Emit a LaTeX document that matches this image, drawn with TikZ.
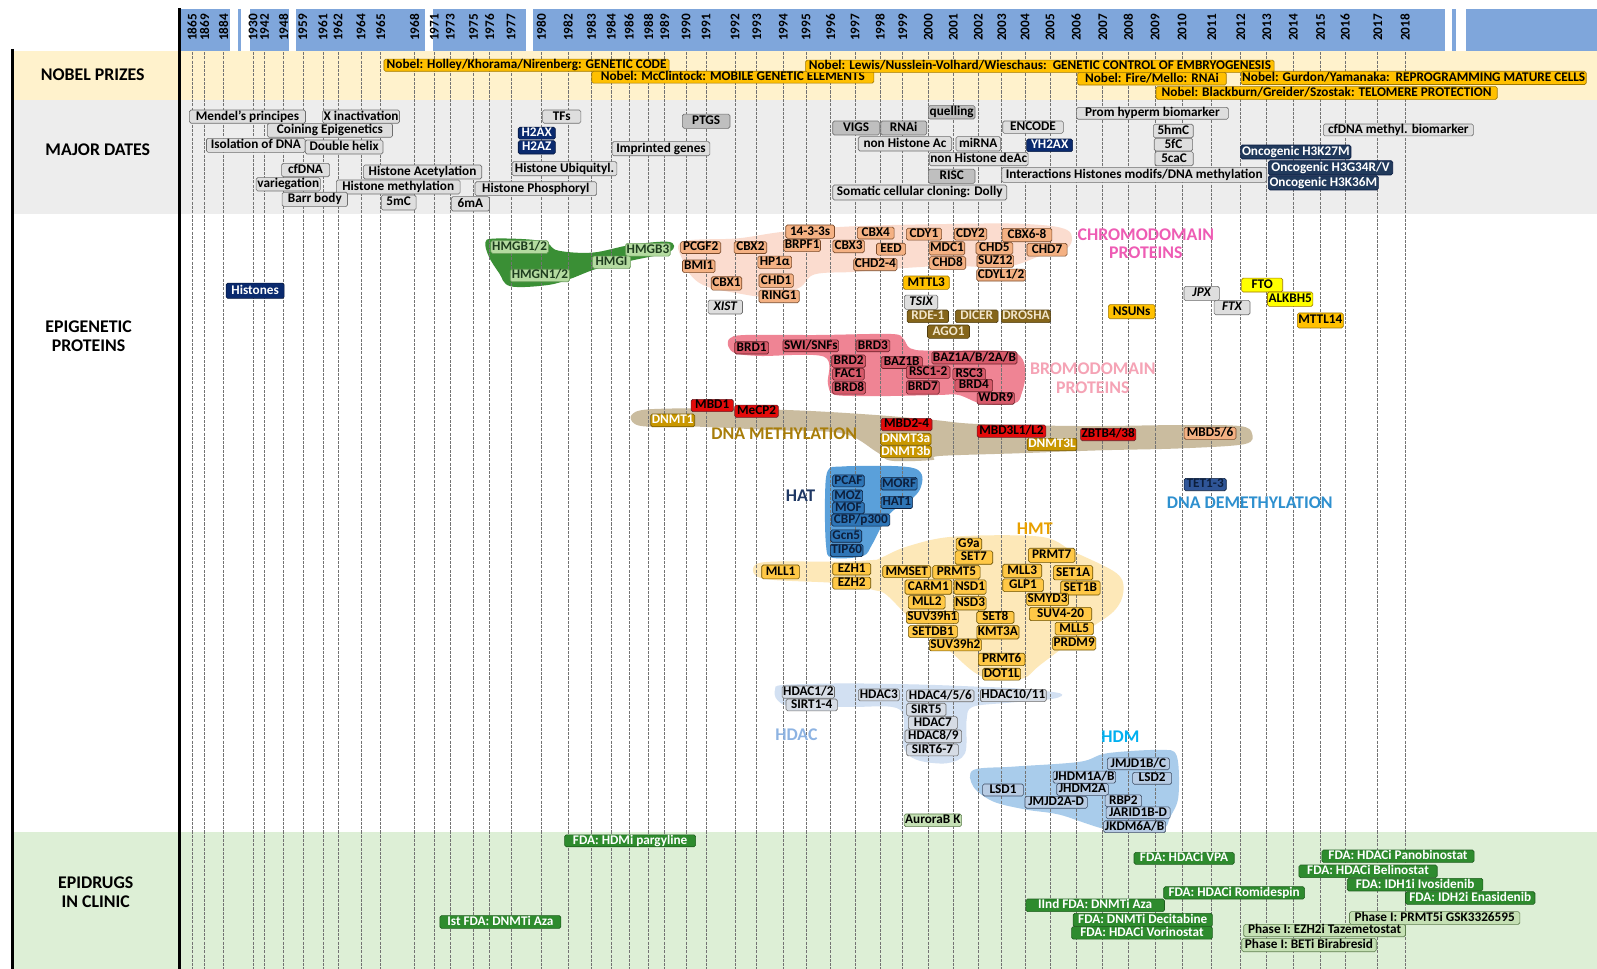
\documentclass[tikz,border=0pt]{standalone}
\usepackage{fontspec}
\setmainfont{Carlito}
\definecolor{cBar}{HTML}{7FA6DB}
\definecolor{cCream}{HTML}{FFF2CC}
\definecolor{cGrayB}{HTML}{EDEDED}
\definecolor{cGreenB}{HTML}{DDEFD6}
\definecolor{cNob}{HTML}{FFC000}
\definecolor{cNobD}{HTML}{A07800}
\definecolor{cGl}{HTML}{DEDEDE}
\definecolor{cGd}{HTML}{BFBFBF}
\definecolor{cGlD}{HTML}{6E6E6E}
\definecolor{cNv}{HTML}{0A2A6E}
\definecolor{cNvD}{HTML}{061840}
\definecolor{cOn}{HTML}{213A5C}
\definecolor{cCh}{HTML}{F4B183}
\definecolor{cChD}{HTML}{7A4A2A}
\definecolor{cHmg}{HTML}{B4DBA0}
\definecolor{cHmgD}{HTML}{6FA060}
\definecolor{cHmgT}{HTML}{1E3D1E}
\definecolor{cHmgBlob}{HTML}{3A8F35}
\definecolor{cChBlob}{HTML}{FBDCCF}
\definecolor{cBrBlob}{HTML}{EF8494}
\definecolor{cBrm}{HTML}{D65A6A}
\definecolor{cBrmD}{HTML}{6A2028}
\definecolor{cDnaBlob}{HTML}{CABC9F}
\definecolor{cRed}{HTML}{E30B0B}
\definecolor{cGold}{HTML}{C99700}
\definecolor{cHatBlob}{HTML}{5AA0DA}
\definecolor{cHat}{HTML}{2E75B6}
\definecolor{cHatT}{HTML}{0D1F3C}
\definecolor{cTet}{HTML}{2F5597}
\definecolor{cHmtBlob}{HTML}{FDE8B8}
\definecolor{cHmt}{HTML}{FFC846}
\definecolor{cHmtD}{HTML}{6A5000}
\definecolor{cHdBlob}{HTML}{D2E0F2}
\definecolor{cHd}{HTML}{D6DCE5}
\definecolor{cHdmBlob}{HTML}{A9CCEB}
\definecolor{cHdm}{HTML}{B8CCE4}
\definecolor{cHdmD}{HTML}{404F66}
\definecolor{cFda}{HTML}{2E8B2E}
\definecolor{cFdaD}{HTML}{1E5E1E}
\definecolor{cPh}{HTML}{C5E0B4}
\definecolor{cPhD}{HTML}{5E7F4E}
\definecolor{cBrn}{HTML}{85651A}
\definecolor{cBrnT}{HTML}{F2E6CC}
\definecolor{cYel}{HTML}{FFFF00}
\definecolor{tChr}{HTML}{EE5CB4}
\definecolor{tBrm}{HTML}{F5A3B5}
\definecolor{tDna}{HTML}{A87D0A}
\definecolor{tHat}{HTML}{1F3864}
\definecolor{tDem}{HTML}{2E90CF}
\definecolor{tHmt}{HTML}{E8A000}
\definecolor{tHdac}{HTML}{8DB3E2}
\definecolor{tHdm}{HTML}{00B0F0}
\newcounter{bxc}
\newcommand\bx[6]{\stepcounter{bxc}%
  \node[#1, minimum width={(#4-#2)*1pt}, minimum height={(#5-#3)*1pt}] (b\arabic{bxc}) at ({(#2+#4)/2},{(#3+#5)/2}) {#6};}
\tikzset{
  bxs/.style={rounded corners=1.6pt, line width=0.6pt, inner xsep=1pt, inner ysep=0pt,
    text height=9.2pt, text depth=2.5pt, font=\fontsize{13}{13}\selectfont\bfseries},
  nob/.style={bxs, fill=cNob, draw=cNobD},
  gl/.style={bxs, fill=cGl, draw=cGlD},
  gd/.style={bxs, fill=cGd, draw=cGlD},
  nv/.style={bxs, fill=cNv, draw=cNvD, text=white},
  onc/.style={bxs, fill=cOn, draw=cNvD, text=white},
  chb/.style={bxs, fill=cCh, draw=cChD},
  hmgb/.style={bxs, fill=cHmg, draw=cHmgD, text=cHmgT},
  orb/.style={bxs, fill=cNob, draw=cNobD},
  ybx/.style={bxs, fill=cYel, draw=cNobD},
  brn/.style={bxs, fill=cBrn, draw=cBrn!60!black, text=cBrnT},
  brm/.style={bxs, fill=cBrm, draw=cBrmD},
  rdb/.style={bxs, fill=cRed, draw=cBrmD},
  dnm/.style={bxs, fill=cGold, draw=cGold!60!black, text=white},
  hatb/.style={bxs, fill=cHat, draw=cHatT, text=cHatT},
  tetb/.style={bxs, fill=cTet, draw=cHatT, text=cHatT},
  hmtb/.style={bxs, fill=cHmt, draw=cHmtD},
  hdb/.style={bxs, fill=cHd, draw=cGlD},
  hdmb/.style={bxs, fill=cHdm, draw=cHdmD},
  fda/.style={bxs, fill=cFda, draw=cFdaD, text=white},
  phb/.style={bxs, fill=cPh, draw=cPhD},
  yrs/.style={rotate=90, inner sep=0pt, font=\fontsize{13}{13}\selectfont\bfseries},
  yline/.style={draw=black!55, line width=0.5pt, dash pattern=on 3pt off 1.2pt},
  grp/.style={inner sep=0pt, align=center, font=\fontsize{17.5}{18}\selectfont\bfseries},
  lab/.style={inner sep=0pt, align=center, font=\fontsize{17.5}{18}\selectfont\bfseries}
}
\begin{document}
\begin{tikzpicture}[x=1pt,y=-1pt]
\useasboundingbox (0,0) rectangle (1568,951);
\fill[white] (0,0) rectangle (1568,951);
% bands
\fill[cCream] (12,50) rectangle (1568,98);
\fill[cGrayB] (12,98) rectangle (1568,210);
\fill[cGreenB] (12,817) rectangle (1568,951);
% year bar
\foreach \a/\b in {177/226,234/237,245/284,291/417,425/516,523/1419,1426/1430,1439/1568}
  \fill[cBar] (\a,9) rectangle (\b,50);
% blobs
\fill[cHmgBlob] plot[smooth cycle, tension=0.6] coordinates {(476.5,238) (484,234.3) (517.9,235) (536.7,238.3) (547.9,246) (581.8,248) (619.3,240.5) (656.9,237.5) (657.5,247.1) (619.3,256) (585.5,264) (559.2,274) (536.7,280) (501,281) (490,268) (480,252)};
\fill[cChBlob] plot[smooth cycle, tension=0.6] coordinates {(670.1,237.3) (724.6,234) (769.7,227.5) (837.3,222.2) (931.3,219.9) (1006.4,219.9) (1047.7,225.8) (1049.6,242.2) (1025.2,249.7) (987.6,262) (931.3,261) (874.9,264) (837.3,267) (799.7,269.4) (784.7,282.5) (754.6,291.3) (724.6,288) (694.5,281.5) (679.5,271.7) (670.1,255.3)};
\fill[cBrBlob] plot[smooth cycle, tension=0.55] coordinates {(716.6,332.2) (731.9,328.9) (803.3,328.9) (874.6,327.9) (886.5,332.2) (893.7,342) (912.7,344.3) (984.1,344.3) (1002.2,350.2) (1007,366.6) (1003.1,386.2) (996,396) (965.1,396.7) (941.3,387.8) (922.2,387.8) (874.6,388.8) (836.6,388.8) (817.5,386.9) (812.8,376.4) (809,350.2) (746.1,349.5) (722.4,346.9) (715.2,340.4)};
\fill[cDnaBlob] plot[smooth cycle, tension=0.55] coordinates {(620,407.5) (636.7,401.9) (708.1,400.9) (789,403.2) (860.4,407.5) (917.5,412.4) (960.3,416.3) (1065,418.3) (1160.2,417.3) (1217.3,418.3) (1229.2,425.5) (1222.1,436) (1160.2,440.2) (1088.8,441.9) (1041.2,443.5) (998.4,445.1) (922.2,447.7) (915.1,451.7) (874.6,452.3) (860.4,443.5) (827.1,425.5) (755.7,422.2) (684.3,418.9) (636.7,418.9) (622.4,415.7)};
\fill[cHatBlob] plot[smooth cycle, tension=0.55] coordinates {(812.8,462) (827,458) (874.6,457.5) (898.4,460) (905.6,468) (903,481) (893.7,491) (876,502) (866,516) (856,535) (847,546) (816.6,547.5) (811,535) (810,490)};
\fill[cHmtBlob] plot[smooth cycle, tension=0.55] coordinates {(864,548.2) (890.3,536.7) (936,526.9) (1021.2,526.9) (1053.9,541.6) (1096.4,562.9) (1103,580.9) (1093.2,600.5) (1060.4,623.4) (1021.2,652.9) (1004.8,666) (975.3,667.6) (955.7,659.4) (929.5,636.5) (896.8,610.3) (870.6,584.2) (857.5,579.2) (824.8,572.7) (759.3,569.4) (741.3,564.5) (741.3,554.7) (759.3,551.4) (824.8,551.4) (857.5,549.8)};
\fill[cHdBlob] plot[smooth cycle, tension=0.55] coordinates {(761,677) (769,672.5) (830,671) (900,672) (955.7,674) (1000,676) (1040.8,680.7) (1034,686) (990,690) (955,694) (949,707) (947.5,739.6) (929.5,749.4) (900,746) (887,733) (884,697) (838,694) (779,694) (763,687)};
\fill[cHdmBlob] plot[smooth cycle, tension=0.55] coordinates {(955.7,756) (995,752.7) (1060,748) (1086.6,739.6) (1138.9,736.3) (1155.3,742) (1157,782) (1149,801.8) (1139,815) (1089.9,815) (1040.8,800) (1008,795) (975.3,787) (955.7,772.4)};
% years and grid lines
\foreach \yr/\x in {1865/188.5, 1869/200.9, 1884/219.5, 1930/248.4, 1942/259.8, 1948/278.5, 1959/297.4, 1961/317, 1962/331.8, 1964/354.4, 1965/373.8, 1968/407.1, 1971/426.4, 1973/442.2, 1975/465, 1976/480.7, 1977/501.7, 1980/531.6, 1982/557.9, 1983/580.7, 1984/599.9, 1986/617.6, 1988/636.8, 1989/652.5, 1990/673.5, 1991/693.2, 1992/721.7, 1993/743, 1994/769.1, 1995/791.4, 1996/815.6, 1997/839.5, 1998/864, 1999/886.3, 2000/911.4, 2001/936, 2002/960.5, 2003/983.5, 2004/1006.4, 2005/1030.9, 2006/1056.5, 2007/1082.7, 2008/1107.8, 2009/1134, 2010/1160.5, 2011/1189.7, 2012/1218.2, 2013/1243.7, 2014/1269.8, 2015/1296.7, 2016/1320.6, 2017/1352.7, 2018/1379.5}{
  \node[yrs] (y\yr) at (\x,27) {\yr};
  \draw[yline] (\x,51) -- (\x,951);
}
% black vertical rules
\draw[line width=3pt] (12,48) -- (12,951);
\draw[line width=3pt] (176.5,8) -- (176.5,951);
% left labels
\node[lab] (lnob) at (91,73) {NOBEL PRIZES};
\node[lab] (lmaj) at (96,147) {MAJOR DATES};
\node[lab] (lepi) at (87,330) {EPIGENETIC\\PROTEINS};
\node[lab] (ldrg) at (94,876) {EPIDRUGS\\IN CLINIC};
% Nobel
\bx{nob}{377}{58}{657}{70}{Nobel: Holley/Khorama/Nirenberg: GENETIC CODE}
\bx{nob}{581}{70}{858}{81.5}{Nobel: McClintock: MOBILE GENETIC ELEMENTS}
\bx{nob}{791}{59}{1251}{71}{Nobel: Lewis/Nusslein-Volhard/Wieschaus:\ \ GENETIC CONTROL OF EMBRYOGENESIS}
\bx{nob}{1058}{71}{1204}{83.5}{Nobel: Fire/Mello: RNAi}
\bx{nob}{1220}{70}{1556}{83}{Nobel: Gurdon/Yamanaka:\ \ REPROGRAMMING MATURE CELLS}
\bx{nob}{1135}{85}{1470}{97.5}{Nobel: Blackburn/Greider/Szostak: TELOMERE PROTECTION}
% Major dates
\bx{gl}{186}{108}{300}{121}{Mendel’s principes}
\bx{gl}{317}{108}{392}{121}{X inactivation}
\bx{gl}{262.5}{121.1}{385.4}{134.8}{Coining Epigenetics}
\bx{gl}{202.7}{135.8}{299.7}{149.6}{Isolation of DNA}
\bx{gl}{299.7}{137.5}{376}{151.2}{Double helix}
\bx{gl}{532.7}{108}{570.3}{121}{TFs}
\bx{nv}{508.8}{125}{545.3}{136.5}{H2AX}
\bx{nv}{508.8}{138.1}{545.3}{151.2}{H2AZ}
\bx{gl}{601}{139.1}{697}{152.9}{Imprinted genes}
\bx{gd}{670}{112}{716.7}{126}{PTGS}
\bx{gl}{276.5}{160.4}{323.6}{173.5}{cfDNA}
\bx{gl}{356.8}{162}{473}{175.7}{Histone Acetylation}
\bx{gl}{251.5}{174.4}{314.6}{187.5}{variegation}
\bx{gl}{330.2}{176.7}{451.7}{190.5}{Histone methylation}
\bx{gl}{277}{188.8}{341.2}{202.9}{Barr body}
\bx{gl}{374.4}{191.5}{408.5}{206.2}{5mC}
\bx{gl}{443.1}{193.1}{480.6}{207.2}{6mA}
\bx{gl}{502.8}{158.7}{605.7}{172.5}{Histone Ubiquityl.}
\bx{gl}{466.4}{178.4}{585.8}{192.1}{Histone Phosphoryl}
\bx{gd}{911.5}{103.7}{957.3}{116.8}{quelling}
\bx{gd}{817.6}{118.8}{863.4}{132.5}{VIGS}
\bx{gd}{864.7}{118.8}{909.9}{132.5}{RNAi}
\bx{gl}{984.5}{118.8}{1044}{130.9}{ENCODE}
\bx{gl}{842.7}{134.2}{934.4}{148.3}{non Histone Ac}
\bx{gl}{938.6}{134.2}{982.5}{148.3}{miRNA}
\bx{nv}{1008}{136.5}{1053.2}{148.9}{YH2AX}
\bx{gl}{913.8}{149.6}{1008}{162.7}{non Histone deAc}
\bx{gd}{911.5}{166}{957.3}{180}{RISC}
\bx{gl}{983.5}{164.3}{1243.7}{179}{Interactions Histones modifs/DNA methylation}
\bx{gl}{817.6}{181.6}{988.4}{196.4}{Somatic cellular cloning: Dolly}
\bx{gl}{1057}{105.7}{1206}{116.8}{Prom hyperm biomarker}
\bx{gl}{1132.4}{122}{1171.6}{135.2}{5hmC}
\bx{gl}{1133.3}{135.8}{1171}{148.3}{5fC}
\bx{gl}{1134}{148.9}{1171.6}{162.7}{5caC}
\bx{gl}{1299.3}{122}{1446.6}{133.2}{cfDNA methyl. biomarker}
\bx{onc}{1218.2}{142.4}{1326.4}{156.1}{Oncogenic H3K27M}
\bx{onc}{1245.3}{157.8}{1367.4}{171.8}{Oncogenic H3G34R/V}
\bx{onc}{1245.3}{172.5}{1353.3}{186.5}{Oncogenic H3K36M}
% Histones and HMG
\bx{nv}{222}{278}{279}{293}{Histones}
\bx{hmgb}{482}{236.3}{538.5}{248.7}{HMGB1/2}
\bx{hmgb}{615.5}{238.9}{656.9}{251.4}{HMGB3}
\bx{hmgb}{581.7}{251.4}{619.2}{263.5}{HMGI}
\bx{hmgb}{501}{264.4}{559.2}{276.6}{HMGN1/2}
% Chromodomain
\bx{chb}{771.5}{220.9}{819.3}{234}{14-3-3s}
\bx{chb}{841.8}{223.2}{877.9}{234.5}{CBX4}
\bx{chb}{889.9}{224.2}{924.5}{235.7}{CDY1}
\bx{chb}{936.9}{224.2}{968.8}{235.7}{CDY2}
\bx{chb}{983.9}{224.2}{1032.7}{237.3}{CBX6-8}
\bx{chb}{668.2}{237.3}{707.6}{248.8}{PCGF2}
\bx{chb}{720.8}{237.3}{752.8}{248.8}{CBX2}
\bx{chb}{769.7}{235}{805.4}{247.1}{BRPF1}
\bx{chb}{817.8}{235.7}{848.6}{248.1}{CBX3}
\bx{chb}{860.6}{238.9}{889.2}{250.4}{EED}
\bx{chb}{912.5}{237.3}{947}{250.4}{MDC1}
\bx{chb}{958.3}{238.3}{994.4}{249.4}{CHD5}
\bx{chb}{1008.3}{238.9}{1047.7}{251.4}{CHD7}
\bx{chb}{670.1}{255.3}{702}{267.7}{BMI1}
\bx{chb}{744.1}{251.4}{777.2}{263.5}{HP1α}
\bx{chb}{840.3}{253.7}{878.6}{265.8}{CHD2-4}
\bx{chb}{912.5}{252}{948.2}{264.5}{CHD8}
\bx{chb}{959.4}{250.4}{995.1}{262.5}{SUZ12}
\bx{chb}{959.4}{264.5}{1006.4}{275.6}{CDYL1/2}
\bx{chb}{698.3}{271.7}{728.3}{284.8}{CBX1}
\bx{chb}{745.2}{269}{779}{282.1}{CHD1}
\bx{chb}{745.2}{284.8}{784.7}{297.2}{RING1}
\bx{gl}{695.3}{294.6}{729}{308.3}{\itshape XIST}
\bx{orb}{886.9}{271}{932}{284.1}{MTTL3}
\bx{gl}{888}{289.7}{920.7}{303.7}{\itshape TSIX}
\bx{brn}{890.7}{304.4}{931.3}{316.8}{RDE-1}
\bx{brn}{938}{304.4}{980}{316.8}{DICER}
\bx{brn}{983.9}{304.4}{1030.8}{316.8}{DROSHA}
\bx{brn}{910.6}{319.1}{951.9}{332.2}{AGO1}
\bx{gl}{1162.5}{281.1}{1197.2}{295.2}{\itshape JPX}
\bx{gl}{1192}{294.9}{1227.3}{309}{\itshape FTX}
\bx{ybx}{1219.1}{273}{1259.4}{286.7}{FTO}
\bx{ybx}{1245.3}{286.7}{1288.2}{300.8}{ALKBH5}
\bx{orb}{1088.2}{299.1}{1134}{312.9}{NSUNs}
\bx{orb}{1273.8}{307.3}{1318.9}{322}{MTTL14}
% Bromodomain
\bx{brm}{721.4}{335.5}{754.7}{347.6}{BRD1}
\bx{brm}{769}{333.8}{823.2}{345.3}{SWI/SNFs}
\bx{brm}{840.4}{333.8}{873.7}{345.3}{BRD3}
\bx{brm}{816.6}{348.6}{849.9}{360.7}{BRD2}
\bx{brm}{865.1}{350.2}{905.6}{361.7}{BAZ1B}
\bx{brm}{915.1}{345.3}{998.4}{357.4}{BAZ1A/B/2A/B}
\bx{brm}{817.5}{361.7}{848.5}{373.1}{FAC1}
\bx{brm}{889.9}{359.4}{932.7}{371.5}{RSC1-2}
\bx{brm}{935.6}{361.7}{967.5}{373.1}{RSC3}
\bx{brm}{817.5}{374.7}{849.9}{386.9}{BRD8}
\bx{brm}{889.9}{373.8}{922.2}{386.9}{BRD7}
\bx{brm}{937.5}{372.5}{974.6}{384.6}{BRD4}
\bx{brm}{959.3}{385.5}{996}{396.7}{WDR9}
% DNA methylation
\bx{rdb}{678.6}{392.1}{720}{404.2}{MBD1}
\bx{rdb}{721.4}{397.7}{764.2}{409.8}{MeCP2}
\bx{dnm}{639.1}{406.5}{681.9}{419}{DNMT1}
\bx{rdb}{865.1}{410.8}{915.1}{422.9}{MBD2-4}
\bx{dnm}{866.1}{425.5}{912.7}{437}{DNMT3a}
\bx{dnm}{866.1}{437.9}{912.7}{449.1}{DNMT3b}
\bx{rdb}{959.3}{417.3}{1026.9}{429.4}{MBD3L1/L2}
\bx{dnm}{1010.3}{430.4}{1055.5}{442.5}{DNMT3L}
\bx{rdb}{1061.2}{420.6}{1115}{432.7}{ZBTB4/38}
\bx{chb}{1162.6}{419.6}{1213.5}{431.4}{MBD5/6}
% HAT
\bx{hatb}{817.5}{466.4}{848.5}{477.9}{PCAF}
\bx{hatb}{866.1}{468.7}{899.4}{481.1}{MORF}
\bx{hatb}{817.5}{481.1}{847}{492.6}{MOZ}
\bx{hatb}{865.1}{487.7}{896.1}{499.1}{HAT1}
\bx{hatb}{817.5}{493.6}{848.5}{504}{MOF}
\bx{hatb}{816.6}{504.7}{873.7}{516.5}{CBP/p300}
\bx{hatb}{815.6}{520.3}{846.1}{532.4}{Gcn5}
\bx{hatb}{815.6}{534.4}{847}{546.5}{TIP60}
\bx{tetb}{1162.6}{469.7}{1204}{481.8}{TET1-3}
% HMT
\bx{hmtb}{747.9}{554.7}{784.9}{568.4}{MLL1}
\bx{hmtb}{817.6}{553}{854.9}{564.5}{EZH1}
\bx{hmtb}{817.6}{566.8}{854.9}{578.3}{EZH2}
\bx{hmtb}{938.7}{528.5}{963.9}{540}{G9a}
\bx{hmtb}{937.7}{540.9}{974.7}{554}{SET7}
\bx{hmtb}{866.7}{555.4}{913.8}{567.1}{MMSET}
\bx{hmtb}{915.8}{555.4}{962.3}{568.4}{PRMT5}
\bx{hmtb}{888.6}{569.4}{934.4}{583.5}{CARM1}
\bx{hmtb}{936.7}{569.4}{968.1}{583.5}{NSD1}
\bx{hmtb}{891.9}{584.8}{927.9}{597.9}{MLL2}
\bx{hmtb}{936.7}{585.8}{968.1}{598.9}{NSD3}
\bx{hmtb}{890.9}{600.5}{940}{612}{SUV39h1}
\bx{hmtb}{959}{600.5}{995.6}{612}{SET8}
\bx{hmtb}{891.9}{614.3}{940}{626}{SETDB1}
\bx{hmtb}{960.6}{614.3}{998.9}{627.4}{KMT3A}
\bx{hmtb}{913.8}{627.4}{962.3}{639.1}{SUV39h2}
\bx{hmtb}{960.6}{641.4}{1006.4}{653.5}{PRMT6}
\bx{hmtb}{965.5}{656.2}{1001.5}{667.6}{DOT1L}
\bx{hmtb}{1009.7}{538.3}{1055.5}{552.1}{PRMT7}
\bx{hmtb}{984.5}{554}{1022.8}{567.1}{MLL3}
\bx{hmtb}{1034.3}{555.4}{1072.9}{569.4}{SET1A}
\bx{hmtb}{984.5}{568.4}{1024.4}{580.9}{GLP1}
\bx{hmtb}{1041.5}{570.4}{1080.1}{584.2}{SET1B}
\bx{hmtb}{1009.7}{582.5}{1047.4}{594.6}{SMYD3}
\bx{hmtb}{1010.7}{596.3}{1071.9}{609.4}{SUV4-20}
\bx{hmtb}{1035.9}{611}{1073.5}{623.4}{MLL5}
\bx{hmtb}{1035.9}{625.1}{1073.5}{638.2}{PRDM9}
% HDAC
\bx{hdb}{769.1}{673.5}{818.2}{685.6}{HDAC1/2}
\bx{hdb}{771.7}{686.6}{822.1}{697.7}{SIRT1-4}
\bx{hdb}{842.8}{676.8}{883}{687.9}{HDAC3}
\bx{hdb}{890.2}{677.4}{956.3}{688.9}{HDAC4/5/6}
\bx{hdb}{962.9}{676.8}{1027}{688.9}{HDAC10/11}
\bx{hdb}{890.2}{690.5}{928.8}{703}{SIRT5}
\bx{hdb}{891.8}{703.6}{940}{716.1}{HDAC7}
\bx{hdb}{888.6}{716.7}{944.2}{729.2}{HDAC8/9}
\bx{hdb}{890.2}{730.5}{941}{742.2}{SIRT6-7}
\bx{phb}{888.6}{799.2}{943.2}{811.6}{AuroraB K}
% HDM
\bx{hdmb}{1087.3}{744.5}{1148.1}{755.3}{JMJD1B/C}
\bx{hdmb}{1036.8}{757.6}{1092.5}{768.4}{JHDM1A/B}
\bx{hdmb}{1112.1}{758.6}{1150.4}{769.7}{LSD2}
\bx{hdmb}{964.8}{769.7}{1004.8}{781.5}{LSD1}
\bx{hdmb}{1037.5}{769.7}{1088.2}{780.5}{JHDM2A}
\bx{hdmb}{1006.4}{782.3}{1067.6}{793.1}{JMJD2A-D}
\bx{hdmb}{1085}{780.5}{1120.9}{792}{RBP2}
\bx{hdmb}{1086}{792.6}{1148.8}{803.5}{JARID1B-D}
\bx{hdmb}{1083.6}{806.7}{1144.4}{816.6}{JKDM6A/B}
% Epidrugs
\bx{fda}{554.4}{819.8}{683}{831.3}{FDA: HDMi pargyline}
\bx{fda}{431.9}{899}{550.7}{911.5}{Ist FDA: DNMTi Aza}
\bx{fda}{1113.4}{836.9}{1211.8}{848.6}{FDA: HDACi VPA}
\bx{fda}{1297.8}{834.6}{1447.3}{846.7}{FDA: HDACi Panobinostat}
\bx{fda}{1275.3}{849.3}{1411.1}{861.7}{FDA: HDACi Belinostat}
\bx{fda}{1322.8}{862.4}{1455.9}{874.8}{FDA: IDH1i Ivosidenib}
\bx{fda}{1142.6}{870.6}{1280.9}{882.7}{FDA: HDACi Romidespin}
\bx{fda}{1380}{875.5}{1507.1}{887.9}{FDA: IDH2i Enasidenib}
\bx{fda}{1007.2}{882.7}{1143.3}{895.1}{IInd FDA: DNMTi Aza}
\bx{fda}{1053.6}{896.8}{1190.4}{909.8}{FDA: DNMTi Decitabine}
\bx{fda}{1052.1}{909.8}{1190.4}{922}{FDA: HDACi Vorinostat}
\bx{phb}{1325}{895.1}{1492.2}{907.6}{Phase I: PRMT5i GSK3326595}
\bx{phb}{1221.1}{907.6}{1380}{919.7}{Phase I: EZH2i Tazemetostat}
\bx{phb}{1219.2}{921.3}{1351.2}{934.4}{Phase I: BETi Birabresid}
% group labels
\node[grp, text=tChr] (gchr) at (1125,239) {CHROMODOMAIN\\PROTEINS};
\node[grp, text=tBrm] (gbrm) at (1073,371.5) {BROMODOMAIN\\PROTEINS};
\node[grp, text=tDna] (gdna) at (770,426) {DNA METHYLATION};
\node[grp, text=tHat] (ghat) at (786,486.5) {HAT};
\node[grp, text=tDem] (gdem) at (1227,494) {DNA DEMETHYLATION};
\node[grp, text=tHmt] (ghmt) at (1016,519) {HMT};
\node[grp, text=tHdac] (ghdac) at (782,721) {HDAC};
\node[grp, text=tHdm] (ghdm) at (1100,723) {HDM};
\end{tikzpicture}
\end{document}
